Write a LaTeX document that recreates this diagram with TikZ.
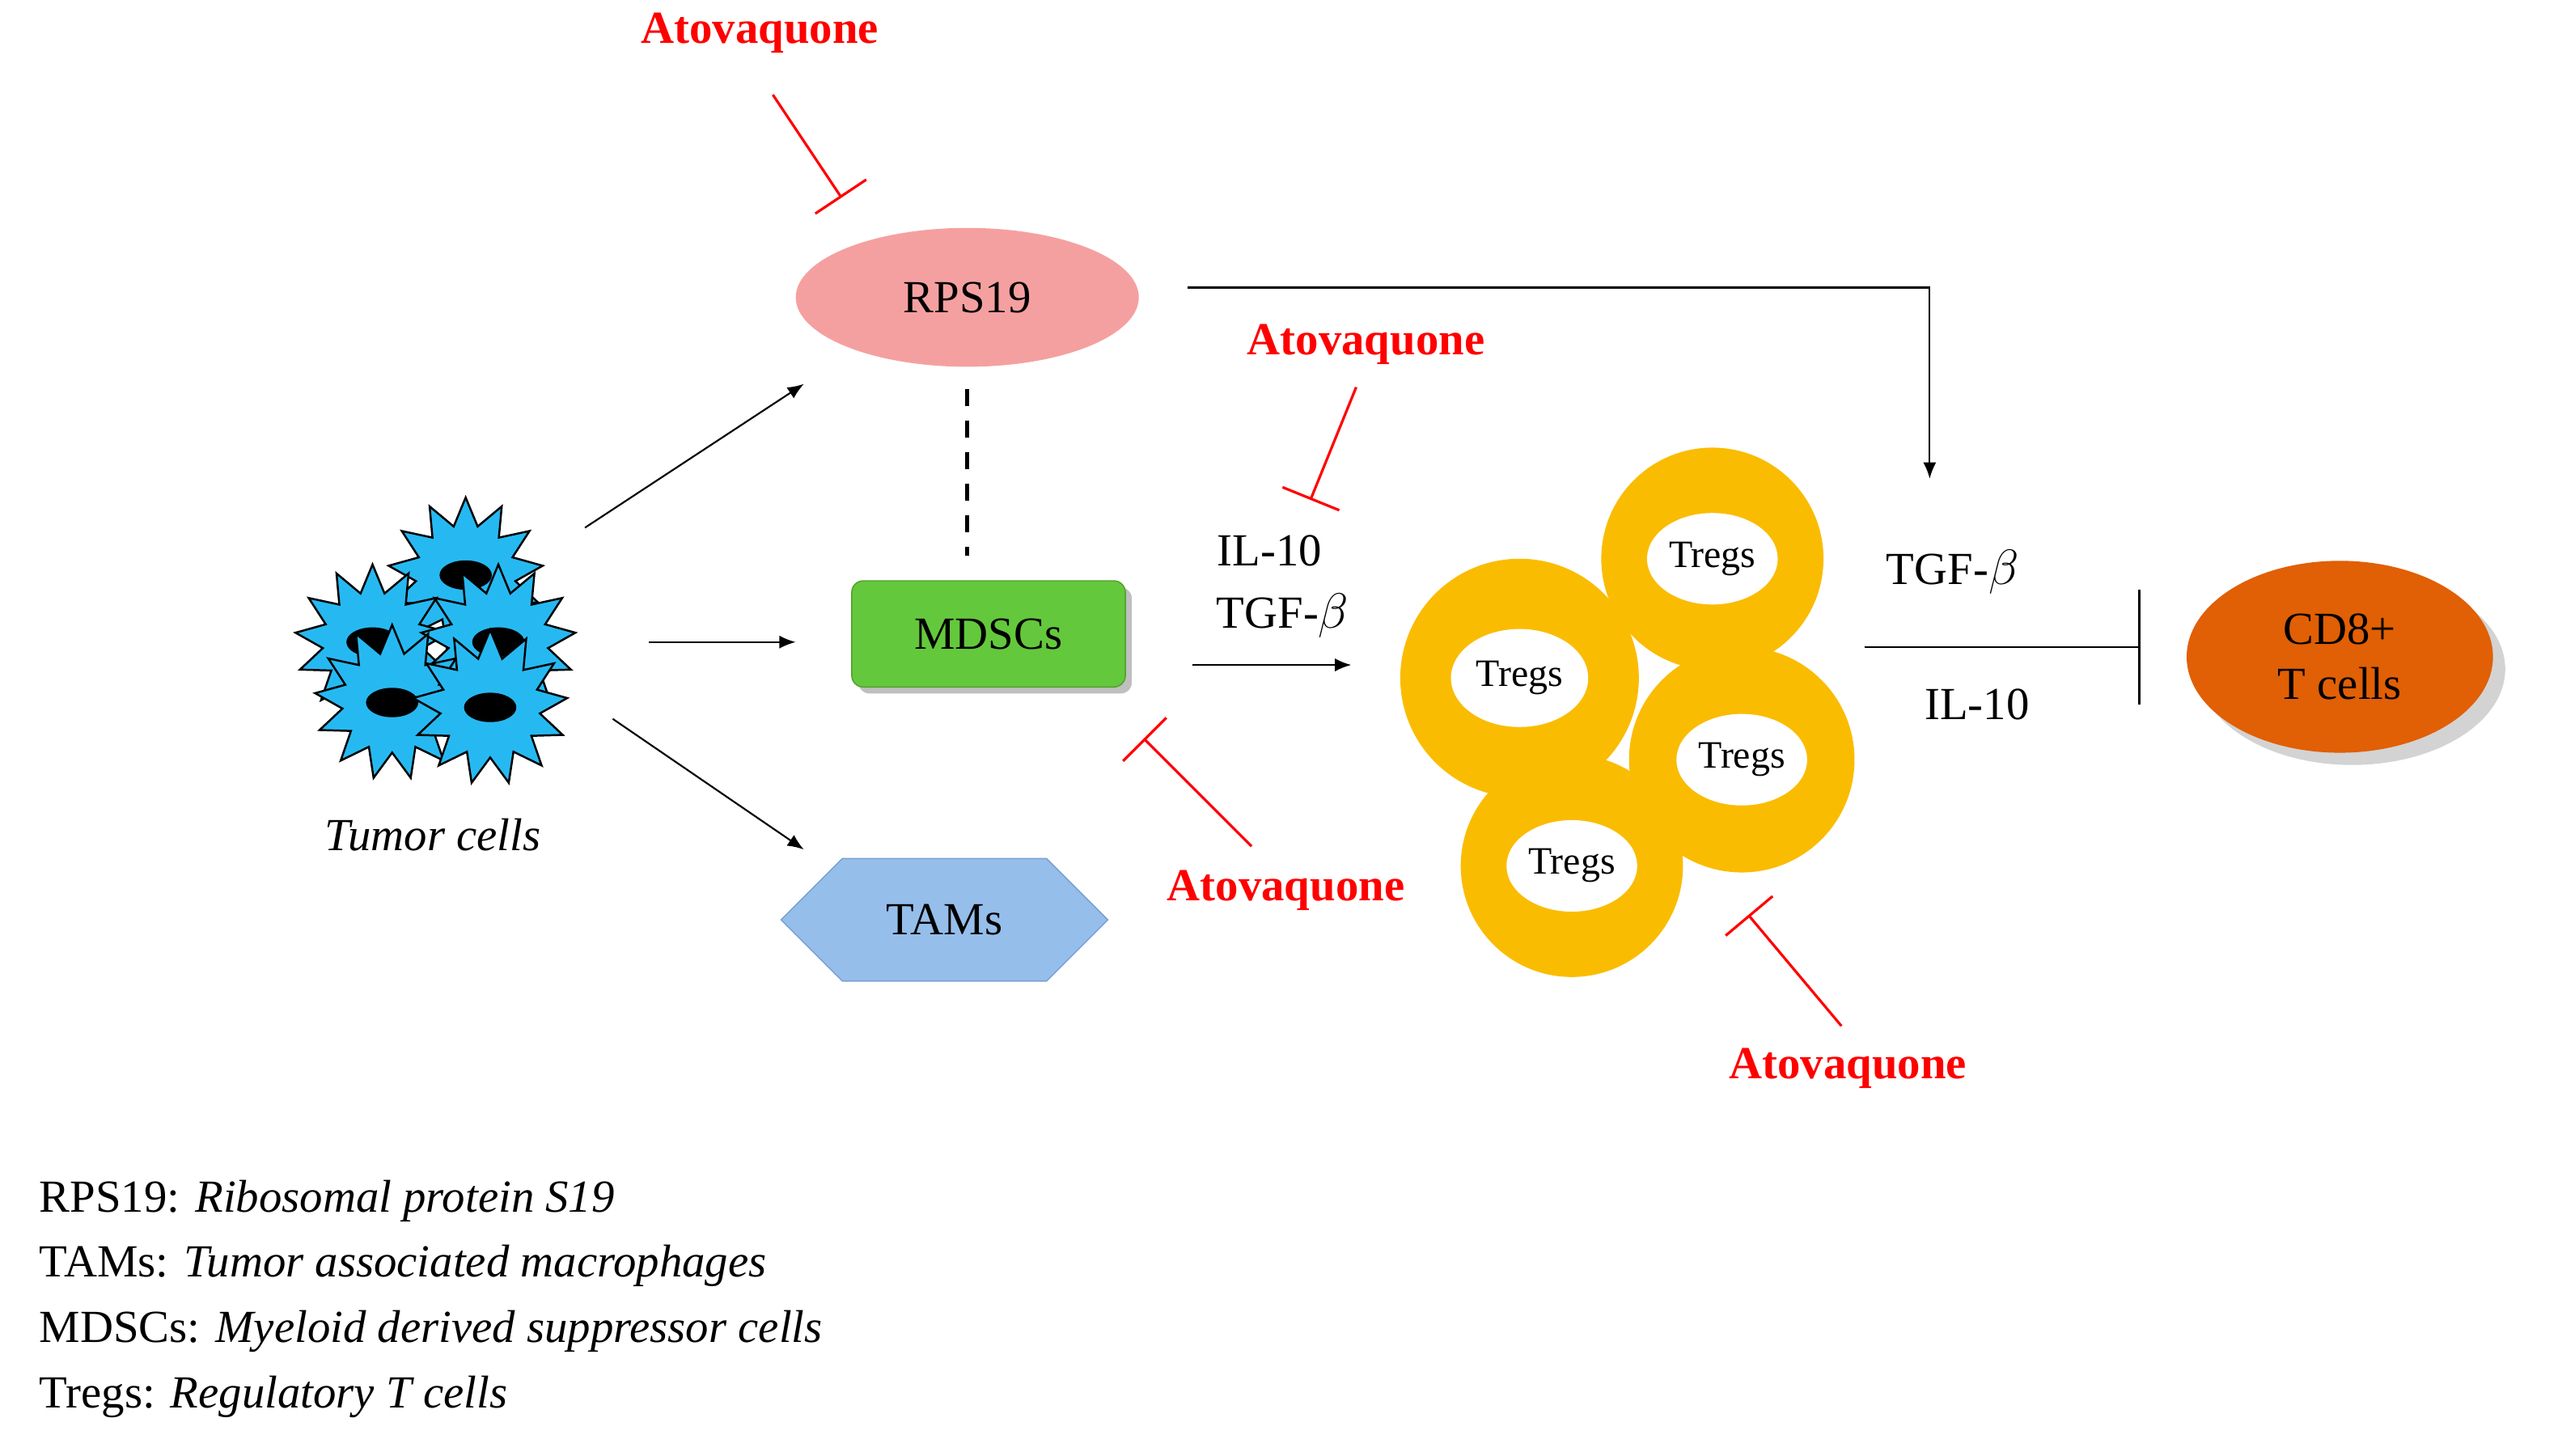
\documentclass[tikz,border=0pt]{standalone}
\usepackage{fontspec}
\setmainfont{Liberation Serif}
\usetikzlibrary{arrows.meta,shapes.geometric,shapes.symbols,shadows}
\begin{document}
\begin{tikzpicture}[x=0.02cm,y=-0.02cm,
  lab/.style={font=\fontsize{16}{19}\selectfont},
  ato/.style={font=\fontsize{16}{19}\selectfont\bfseries,text=red},
  inh/.style={red,line width=0.9pt,-{Bar[width=0.75cm,line width=0.9pt]}},
  arr/.style={line width=0.6pt,-{Latex[length=2mm,width=1.6mm]}},
  cell/.style={star,star points=13,star point ratio=1.55,minimum size=1.9cm,draw=black,line width=0.7pt,fill=cyan!85!white},
  treg/.style={circle,fill={rgb,255:red,250;green,188;blue,0},minimum size=#1},
]
\useasboundingbox (0,0) rectangle (1568,891);
% tumor cells
\foreach \n/\x/\y in {c1/285/352,c2/228/393,c3/305/393,c4/240/430,c5/300/433}{
  \node[cell] (\n) at (\x,\y) {};
  \fill[black] (\x,\y) ellipse [x radius=16, y radius=9];
}
\node[lab,font=\fontsize{16}{19}\selectfont\itshape] (tc) at (265,511) {Tumor cells};
% RPS19
\node[ellipse,fill={rgb,255:red,245;green,160;blue,160},minimum width=4.2cm,minimum height=1.7cm,lab] (rps) at (592,182) {RPS19};
\node[rounded corners=4pt,fill={rgb,255:red,100;green,200;blue,60},draw={rgb,255:red,80;green,160;blue,40},minimum width=3.35cm,minimum height=1.3cm,lab,drop shadow] (mdsc) at (605,388) {MDSCs};
\node[signal,signal to=east and west,fill={rgb,255:red,150;green,190;blue,235},draw={rgb,255:red,120;green,160;blue,210},minimum width=4cm,minimum height=1.5cm,lab] (tam) at (578,563) {TAMs};
% arrows from tumor
\coordinate (t1) at (358,323); \coordinate (t2) at (397,393); \coordinate (t3) at (375,440);
\coordinate (r1) at (492,235); \coordinate (m1) at (487,393); \coordinate (a1) at (492,520);
\draw[arr] (t1) -- (r1);
\draw[arr] (t2) -- (m1);
\draw[arr] (t3) -- (a1);
% dashed
\draw[line width=1.5pt,dash pattern=on 6pt off 5pt] (592,238) -- (592,340);
% RPS19 to Tregs
\coordinate (p0) at (727,176); \coordinate (p1) at (1181,293);
\draw[arr] (p0) -| (p1);
% IL-10 TGF
\node[lab] (il1) at (777,337) {IL-10};
\node[lab] (tg1) at (785,377) {TGF-$\beta$};
\coordinate (q0) at (730,407); \coordinate (q1) at (827,407);
\draw[arr] (q0) -- (q1);
% Tregs
\foreach \n/\x/\y/\R/\rx/\ry in {g2/1048/342/136/40/28,g1/930/415/146/42/30,g3/1066/465/138/40/28,g4/962/530/136/40/28}{
  \node[treg=\R*0.02cm] (\n) at (\x,\y) {};
  \fill[white] (\x,\y) ellipse [x radius=\rx, y radius=\ry];
  \node[font=\fontsize{13.5}{16}\selectfont] at (\x,\y) {Tregs};
}
% Treg to CD8
\node[lab] (tg2) at (1195,350) {TGF-$\beta$};
\node[lab] (il2) at (1210,431) {IL-10};
\coordinate (s0) at (1141,396); \coordinate (s1) at (1310,396);
\draw[line width=0.7pt,-{Bar[width=1.4cm,line width=0.7pt]}] (s0) -- (s1);
\node[ellipse,fill={rgb,255:red,225;green,95;blue,5},minimum width=3.75cm,minimum height=2.35cm,align=center,lab,
  drop shadow={shadow xshift=0.15cm,shadow yshift=-0.15cm,opacity=0.35}] (cd8) at (1432,402) {CD8+\\T cells};
% Atovaquone
\node[ato] (at1) at (465,20) {Atovaquone};
\coordinate (i1a) at (473,58); \coordinate (i1b) at (515,121);
\draw[inh] (i1a) -- (i1b);
\node[ato] (at2) at (836,211) {Atovaquone};
\coordinate (i2a) at (830,237); \coordinate (i2b) at (802,306);
\draw[inh] (i2a) -- (i2b);
\node[ato] (at3) at (787,545) {Atovaquone};
\coordinate (i3a) at (766,518); \coordinate (i3b) at (700,452);
\draw[inh] (i3a) -- (i3b);
\node[ato] (at4) at (1131,654) {Atovaquone};
\coordinate (i4a) at (1127,628); \coordinate (i4b) at (1070,560);
\draw[inh] (i4a) -- (i4b);
% legend
\node[lab,anchor=west] (l1) at (18,735) {RPS19: \textit{Ribosomal protein S19}};
\node[lab,anchor=west] (l2) at (18,775) {TAMs: \textit{Tumor associated macrophages}};
\node[lab,anchor=west] (l3) at (18,815) {MDSCs: \textit{Myeloid derived suppressor cells}};
\node[lab,anchor=west] (l4) at (18,855) {Tregs: \textit{Regulatory T cells}};
\end{tikzpicture}
\end{document}
